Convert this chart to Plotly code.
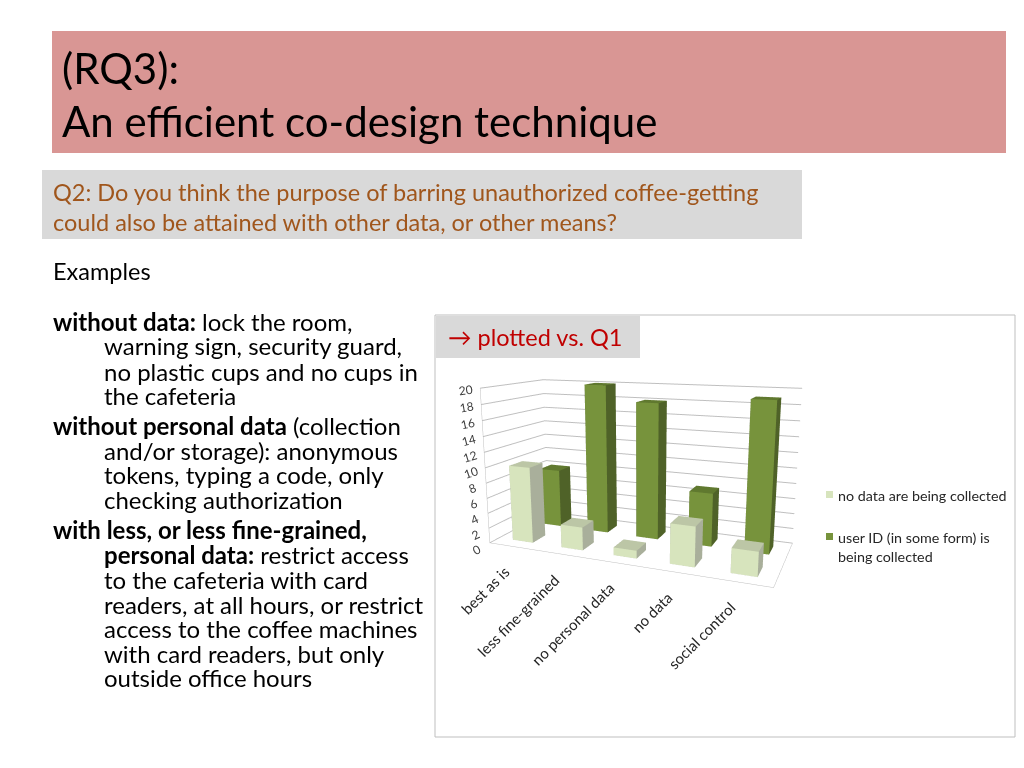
import plotly.graph_objects as go

# ---------------- data ----------------
categories = ["best as is", "less fine-grained", "no personal data", "no data", "social control"]
no_data_collected = [10, 3, 1, 5, 3]
user_id_collected = [8, 20, 18, 7, 19]
series_names = ["no data are being collected", "user ID (in some form) is<br>being collected"]
z_ticks = list(range(0, 21, 2))

W, H = 1024, 768
FONT = "Lato"
LIGHT = "#D7E4BD"
DARK = "#77933C"


def px(x):
    return x / W


def py(y):
    return 1 - y / H


def box_mesh(values, row, name, c_front, c_side, c_top, width=0.42, depth=0.42):
    xs, ys, zs, I, J, K, fc = [], [], [], [], [], [], []
    for i, v in enumerate(values):
        x0, x1 = i - width / 2, i + width / 2
        y0, y1 = row - depth / 2, row + depth / 2
        z0, z1 = 0, v
        b = len(xs)
        verts = [(x0, y0, z0), (x1, y0, z0), (x1, y1, z0), (x0, y1, z0),
                 (x0, y0, z1), (x1, y0, z1), (x1, y1, z1), (x0, y1, z1)]
        for (a, c, d) in verts:
            xs.append(a); ys.append(c); zs.append(d)
        faces = [((0, 1, 2), c_side), ((0, 2, 3), c_side),
                 ((4, 5, 6), c_top), ((4, 6, 7), c_top),
                 ((0, 1, 5), c_front), ((0, 5, 4), c_front),
                 ((3, 2, 6), c_side), ((3, 6, 7), c_side),
                 ((0, 3, 7), c_side), ((0, 7, 4), c_side),
                 ((1, 2, 6), c_side), ((1, 6, 5), c_side)]
        for (t, col) in faces:
            I.append(b + t[0]); J.append(b + t[1]); K.append(b + t[2]); fc.append(col)
    return go.Mesh3d(x=xs, y=ys, z=zs, i=I, j=J, k=K, facecolor=fc, flatshading=True,
                     lighting=dict(ambient=1, diffuse=0, specular=0, roughness=1, fresnel=0),
                     name=name, showlegend=False, hoverinfo="skip", scene="scene")


fig = go.Figure()
fig.add_trace(box_mesh(no_data_collected, 0, series_names[0], LIGHT, "#A9AF9B", "#BCC6A6"))
fig.add_trace(box_mesh(user_id_collected, 1, series_names[1], DARK, "#4F6228", "#60792F"))

shapes = [
    dict(type="rect", xref="paper", yref="paper", x0=px(52), x1=px(1006), y0=py(153), y1=py(31),
         fillcolor="#D99694", line=dict(width=0), layer="below"),
    dict(type="rect", xref="paper", yref="paper", x0=px(42), x1=px(802), y0=py(239), y1=py(170),
         fillcolor="#D9D9D9", line=dict(width=0), layer="below"),
    dict(type="rect", xref="paper", yref="paper", x0=px(435), x1=px(1015), y0=py(737), y1=py(315),
         fillcolor="white", line=dict(color="#BFBFBF", width=1), layer="below"),
    dict(type="rect", xref="paper", yref="paper", x0=px(436), x1=px(640), y0=py(358), y1=py(316),
         fillcolor="#D9D9D9", line=dict(width=0), layer="below"),
    # legend keys
    dict(type="rect", xref="paper", yref="paper", x0=px(826), x1=px(833), y0=py(498), y1=py(491),
         fillcolor=LIGHT, line=dict(width=0)),
    dict(type="rect", xref="paper", yref="paper", x0=px(826), x1=px(833), y0=py(540), y1=py(533),
         fillcolor=DARK, line=dict(width=0)),
]

annotations = []


def txt(x, y, s, size, color="black"):
    annotations.append(dict(xref="paper", yref="paper", x=px(x - 1), y=py(y), text=s, showarrow=False,
                            xanchor="left", yanchor="middle", align="left", borderpad=0,
                            font=dict(family=FONT, size=size, color=color)))


txt(62, 68, "(RQ3):", 42)
txt(62, 121, "An efficient co-design technique", 42)
txt(53, 192, "Q2: Do you think the purpose of barring unauthorized coffee-getting", 23.5, "#A0561C")
txt(53, 222, "could also be attained with other data, or other means?", 23.5, "#A0561C")
txt(53, 271, "Examples", 23.5)

body = [
    (53, 322, "<b>without data:</b> lock the room,"),
    (104, 346, "warning sign, security guard,"),
    (104, 371, "no plastic cups and no cups in"),
    (104, 395, "the cafeteria"),
    (53, 425, "<b>without personal data</b> (collection"),
    (104, 450, "and/or storage): anonymous"),
    (104, 474, "tokens, typing a code, only"),
    (104, 499, "checking authorization"),
    (53, 529, "<b>with less, or less fine-grained,</b>"),
    (104, 554, "<b>personal data:</b> restrict access"),
    (104, 579, "to the cafeteria with card"),
    (104, 604, "readers, at all hours, or restrict"),
    (104, 628, "access to the coffee machines"),
    (104, 653, "with card readers, but only"),
    (104, 677, "outside office hours"),
]
for (x, y, s) in body:
    txt(x, y, s, 24)

txt(448, 337, "→ plotted vs. Q1", 23.5, "#C00000")

# legend texts
txt(838, 495, series_names[0], 14.3, "#262626")
txt(838, 537, "user ID (in some form) is", 14.3, "#262626")
txt(838, 556, "being collected", 14.3, "#262626")

scene_ann = []
for i, c in enumerate(categories):
    scene_ann.append(dict(x=i, y=-0.5, z=0, text=c, showarrow=False, textangle=-45,
                          xanchor="right", yanchor="top", xshift=2, yshift=-13,
                          font=dict(family=FONT, size=15, color="#262626")))

grid = "#BFBFBF"
fig.update_layout(
    width=W, height=H, margin=dict(l=0, r=0, t=0, b=0),
    paper_bgcolor="white",
    shapes=shapes, annotations=annotations,
    showlegend=False,
    scene=dict(
        domain=dict(x=[px(364), px(918)], y=[py(708), py(228)]),
        xaxis=dict(range=[-0.5, 4.5], showticklabels=False, showgrid=False, title=dict(text=""),
                   showbackground=True, backgroundcolor="white", showline=True, linecolor=grid,
                   zeroline=False, showspikes=False, ticks=""),
        yaxis=dict(range=[-0.5, 1.5], showticklabels=False, showgrid=False, title=dict(text=""),
                   showbackground=True, backgroundcolor="white", showline=True, linecolor=grid,
                   zeroline=False, showspikes=False, ticks=""),
        zaxis=dict(range=[0, 20], tickvals=z_ticks, showgrid=True, gridcolor=grid, title=dict(text=""),
                   showbackground=True, backgroundcolor="white", showline=True, linecolor=grid,
                   zeroline=False, showspikes=False, tickfont=dict(family=FONT, size=12, color="#404040")),
        aspectmode="manual", aspectratio=dict(x=2.1, y=0.84, z=1.15),
        camera=dict(eye=dict(x=1.533, y=-3.794, z=0.945), center=dict(x=0, y=0, z=0),
                    projection=dict(type="perspective")),
        annotations=scene_ann,
    ),
)

fig.write_html("out.html", config={"displayModeBar": False},
               post_script="document.body.style.margin='0';")
